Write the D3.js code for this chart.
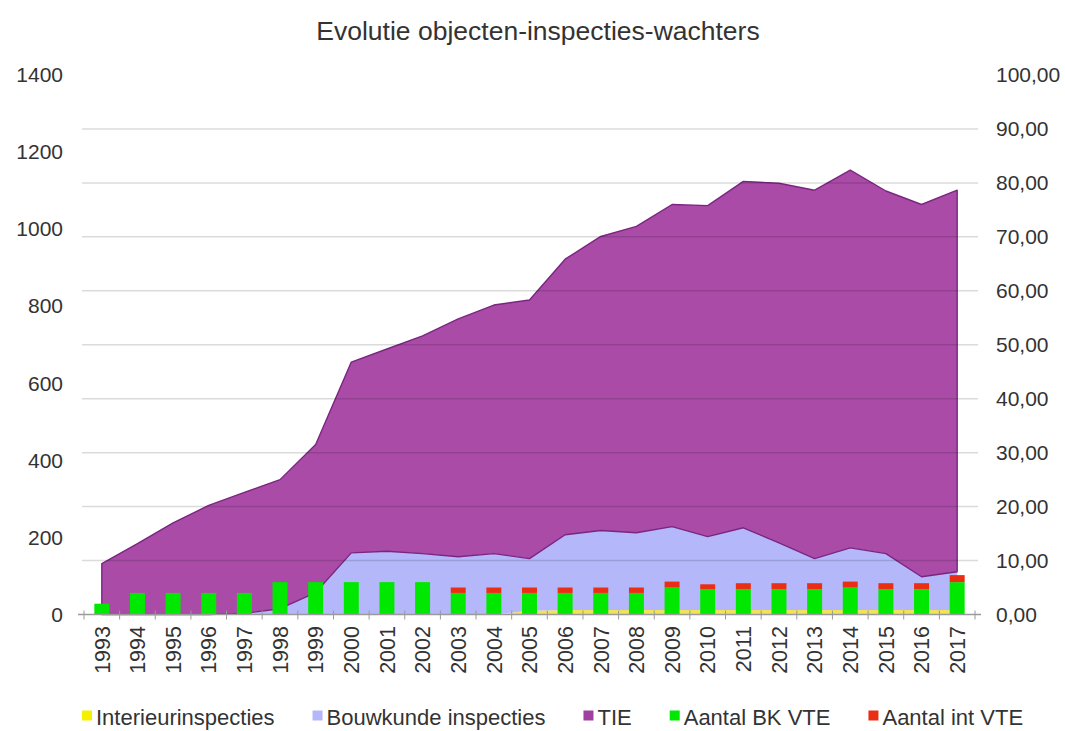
<!DOCTYPE html>
<html>
<head>
<meta charset="utf-8">
<script src="https://cdn.jsdelivr.net/npm/d3@7"></script>
<style>
    body { margin: 0; background: #fff; }
    text { font-family: "Liberation Sans", Arial, sans-serif; fill: #333; }
</style>
</head>
<body>
<svg id="chart" width="1065" height="731"></svg>
<script>
// values
const years = ["1993", "1994", "1995", "1996", "1997", "1998", "1999", "2000", "2001", "2002",
    "2003", "2004", "2005", "2006", "2007", "2008", "2009", "2010", "2011", "2012",
    "2013", "2014", "2015", "2016", "2017"];
const interieur = [0, 0, 0, 0, 0, 0, 0, 0, 0, 0, 0, 0, 10, 12, 12, 12, 12, 12, 12, 12, 12, 12, 12, 12, 12];
const bouwkunde = [0, 0, 0, 0, 3, 15, 57, 160, 164, 158, 150, 158, 135, 195, 206, 200, 216, 190, 213, 174, 133, 161, 146, 86, 99];
const tie = [132, 184, 238, 283, 314, 335, 384, 495, 525, 565, 617, 645, 671, 715, 763, 795, 836, 859, 899, 933, 956, 980, 941, 966, 990];
const bkVte = [2, 4, 4, 4, 4, 6, 6, 6, 6, 6, 4, 4, 4, 4, 4, 4, 5, 4.7, 4.7, 4.7, 4.7, 5, 4.7, 4.7, 6];
const intVte = [0, 0, 0, 0, 0, 0, 0, 0, 0, 0, 1, 1, 1, 1, 1, 1, 1.1, 0.9, 1.1, 1.1, 1.1, 1.1, 1.1, 1.1, 1.3];
const leftTicks = [0, 200, 400, 600, 800, 1000, 1200, 1400];
const rightTicks = [0, 10, 20, 30, 40, 50, 60, 70, 80, 90, 100];

const areaKeys = ["Interieurinspecties", "Bouwkunde inspecties", "TIE"];
const barKeys = ["Aantal BK VTE", "Aantal int VTE"];
const color = d3.scaleOrdinal()
    .domain(areaKeys.concat(barKeys))
    .range(["#f0e25a", "#b4b7fa", "#aa4ba8", "#00e800", "#ea2e14"]);
const legendColor = d3.scaleOrdinal()
    .domain(areaKeys.concat(barKeys))
    .range(["#f4f000", "#b4b7fa", "#a040a0", "#00e800", "#ea2e14"]);

const svg = d3.select("#chart");
const plotLeft = 84, plotRight = 975, plotBottom = 614.5, plotTop = 75;

const x = d3.scaleBand().domain(years).range([plotLeft, plotRight])
    .paddingInner(0.58).paddingOuter(0.29);
const yL = d3.scaleLinear().domain([0, 1400]).range([plotBottom, plotTop]);
const yR = d3.scaleLinear().domain([0, 100]).range([plotBottom, plotTop]);
const cx = yr => x(yr) + x.bandwidth() / 2;

// stacked areas on the left axis
const rows = years.map((yr, i) => ({
    year: yr,
    "Interieurinspecties": interieur[i],
    "Bouwkunde inspecties": bouwkunde[i],
    "TIE": tie[i]
}));
const stacked = d3.stack().keys(areaKeys)(rows);
const area = d3.area()
    .x(d => cx(d.data.year))
    .y0(d => yL(d[0]))
    .y1(d => yL(d[1]));

svg.append("g").selectAll("path")
    .data(stacked).join("path")
    .attr("d", area)
    .attr("fill", d => color(d.key))
    .attr("stroke", d => d.key == "TIE" ? "#7a2680" : "none")
    .attr("stroke-width", 1.4)
    .attr("stroke-linejoin", "round");

// gridlines, drawn over the areas like in the original
svg.append("g").selectAll("line")
    .data(rightTicks.filter(v => v > 0 && v < 100)).join("line")
    .attr("x1", plotLeft - 2).attr("x2", plotRight + 3)
    .attr("y1", d => yR(d)).attr("y2", d => yR(d))
    .attr("stroke", "#000").attr("stroke-opacity", 0.14).attr("stroke-width", 1.5);

// stacked bars on the right axis
const barRows = years.map((yr, i) => ({year: yr, "Aantal BK VTE": bkVte[i], "Aantal int VTE": intVte[i]}));
const barStack = d3.stack().keys(barKeys)(barRows);
svg.append("g").selectAll("g")
    .data(barStack).join("g")
    .attr("fill", d => color(d.key))
    .selectAll("rect")
    .data(d => d).join("rect")
    .attr("x", d => x(d.data.year))
    .attr("width", x.bandwidth())
    .attr("y", d => yR(d[1]))
    .attr("height", d => yR(d[0]) - yR(d[1]));

// x axis line with ticks between categories
const boundaries = years.map(yr => x(yr) - (x.step() - x.bandwidth()) / 2).concat([plotRight]);
const xAxis = svg.append("g");
xAxis.append("line")
    .attr("x1", plotLeft - 6).attr("x2", plotRight + 6)
    .attr("y1", plotBottom).attr("y2", plotBottom)
    .attr("stroke", "#9a9a9a").attr("stroke-width", 1.5);
xAxis.selectAll("line.tick")
    .data(boundaries).join("line")
    .attr("class", "tick")
    .attr("x1", d => d).attr("x2", d => d)
    .attr("y1", plotBottom - 4).attr("y2", plotBottom + 5)
    .attr("stroke", "#9a9a9a").attr("stroke-width", 1);
xAxis.selectAll("text")
    .data(years).join("text")
    .attr("transform", d => `translate(${cx(d)},626) rotate(-90)`)
    .attr("text-anchor", "end")
    .attr("dy", "0.36em")
    .style("font-size", "21.5px")
    .text(d => d);

// left axis
const leftAxis = svg.append("g")
    .attr("transform", `translate(${plotLeft},0)`)
    .call(d3.axisLeft(yL).tickValues(leftTicks).tickSize(0).tickPadding(21).tickFormat(d3.format("d")));
leftAxis.select(".domain").remove();
leftAxis.selectAll("text")
    .style("font-size", "21px").style("font-family", null).attr("fill", "#333");

// right axis
const rightAxis = svg.append("g")
    .attr("transform", `translate(${plotRight},0)`)
    .call(d3.axisRight(yR).tickValues(rightTicks).tickSize(0).tickPadding(21)
        .tickFormat(d => d3.format(".2f")(d).replace(".", ",")));
rightAxis.select(".domain").remove();
rightAxis.selectAll("text")
    .style("font-size", "21px").style("font-family", null).attr("fill", "#333");

// title
svg.append("text")
    .attr("x", 538).attr("y", 40)
    .attr("text-anchor", "middle")
    .style("font-size", "26.5px")
    .attr("fill", "#222")
    .text("Evolutie objecten-inspecties-wachters");

// legend
const legend = svg.append("g");
let lx = 82;
areaKeys.concat(barKeys).forEach(key => {
    legend.append("rect")
        .attr("x", lx).attr("y", 710.5)
        .attr("width", 10).attr("height", 10)
        .attr("fill", legendColor(key));
    const t = legend.append("text")
        .attr("x", lx + 14).attr("y", 725)
        .style("font-size", "22px")
        .text(key);
    lx += 14 + t.node().getComputedTextLength() + 38;
});
</script>
</body>
</html>
